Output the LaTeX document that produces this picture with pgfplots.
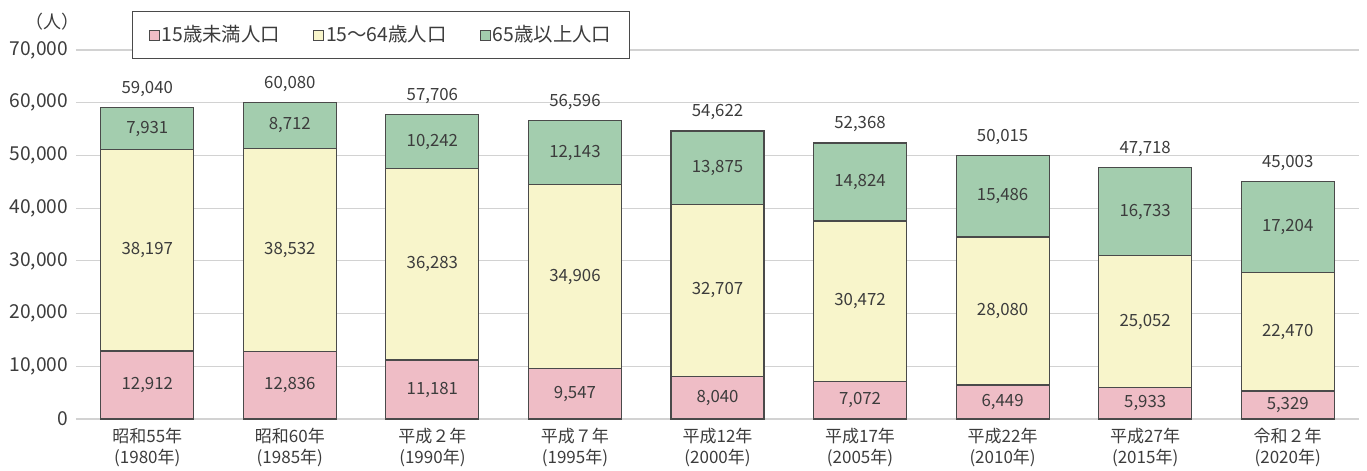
\documentclass[border=0pt]{standalone}
\usepackage{pgfplots}
\pgfplotsset{compat=1.18}
\usepackage{fontspec}
\setmainfont{Noto Sans CJK JP}
\definecolor{cpink}{HTML}{EFBDC6}
\definecolor{cyel}{HTML}{F8F5CB}
\definecolor{cgreen}{HTML}{A3CDAE}
\definecolor{cedge}{HTML}{4A4A4A}
\definecolor{ctext}{HTML}{3C3C3C}
\definecolor{cgrid}{HTML}{D2D2D2}
\pgfplotsset{
  /pgf/number format/assume math mode=true,
  base/.style={
    scale only axis, width=641.5pt, height=184.5pt,
    xmin=-0.5, xmax=8.5, ymin=0, ymax=70000,
  },
  lg/.style={legend image code/.code={\draw[##1, draw=cedge, line width=0.5pt] (0pt,-2.5pt) rectangle (5pt,2.5pt);}},
}
\begin{document}
\fontsize{8.4pt}{10pt}\selectfont
\color{ctext}
\begin{tikzpicture}
\begin{axis}[base, ybar stacked, bar width=46.5pt,
  axis line style={draw=none},
  major tick length=0pt,
  ymajorgrids, grid style={cgrid, line width=0.6pt},
  ytick={0,10000,...,70000},
  scaled y ticks=false,
  yticklabel style={text=ctext, xshift=-1pt, font=\fontsize{9.6pt}{11pt}\selectfont, /pgf/number format/1000 sep={,}, /pgf/number format/assume math mode=true},
  xtick={0,...,8},
  xticklabels={{昭和55年\\(1980年)},{昭和60年\\(1985年)},{平成２年\\(1990年)},{平成７年\\(1995年)},{平成12年\\(2000年)},{平成17年\\(2005年)},{平成22年\\(2010年)},{平成27年\\(2015年)},{令和２年\\(2020年)}},
  xticklabel style={align=center, text=ctext, font=\fontsize{8.5pt}{10.5pt}\selectfont, yshift=-1.5pt},
  legend style={at={(axis description cs:0.0436,1.1057)}, anchor=north west, draw=cedge, line width=0.6pt,
    legend columns=3, font=\fontsize{9.7pt}{11pt}\selectfont, text=ctext,
    inner xsep=8pt, inner ysep=5pt,
    nodes={inner xsep=1pt},
    /tikz/every even column/.append style={column sep=15.5pt}},
  clip=false,
  after end axis/.code={
    \coordinate (bl) at (rel axis cs:0,0);
    \coordinate (tr) at (rel axis cs:1,1);
  },
]
\addplot[fill=cpink, draw=cedge, line width=0.6pt, lg] coordinates {(0,12912) (1,12836) (2,11181) (3,9547) (4,8040) (5,7072) (6,6449) (7,5933) (8,5329)};
\addplot[fill=cyel, draw=cedge, line width=0.6pt, lg] coordinates {(0,38197) (1,38532) (2,36283) (3,34906) (4,32707) (5,30472) (6,28080) (7,25052) (8,22470)};
\addplot[fill=cgreen, draw=cedge, line width=0.6pt, lg] coordinates {(0,7931) (1,8712) (2,10242) (3,12143) (4,13875) (5,14824) (6,15486) (7,16733) (8,17204)};
\legend{15歳未満人口,15～64歳人口,65歳以上人口}
\end{axis}
\begin{axis}[base, hide axis, clip=false,
  nodes near coords={\pgfmathprintnumber[1000 sep={,}, assume math mode=true]{\pgfplotspointmeta}},
  point meta=explicit,
]
% segment labels: y = middle of segment, meta = value
\addplot[draw=none, mark=none, every node near coord/.append style={anchor=center, text=ctext}] table[meta=v] {
x y v
0 6456 12912
1 6418 12836
2 5590.5 11181
3 4773.5 9547
4 4020 8040
5 3536 7072
6 3224.5 6449
7 2966.5 5933
8 2664.5 5329
};
\addplot[draw=none, mark=none, every node near coord/.append style={anchor=center, text=ctext}] table[meta=v] {
x y v
0 32010.5 38197
1 32102 38532
2 29322.5 36283
3 27000 34906
4 24393.5 32707
5 22308 30472
6 20489 28080
7 18459 25052
8 16564 22470
};
\addplot[draw=none, mark=none, every node near coord/.append style={anchor=center, text=ctext}] table[meta=v] {
x y v
0 55074.5 7931
1 55724 8712
2 52585 10242
3 50524.5 12143
4 47684.5 13875
5 44956 14824
6 42272 15486
7 39351.5 16733
8 36401 17204
};
% totals
\addplot[draw=none, mark=none, every node near coord/.append style={anchor=south, text=ctext, yshift=2.5pt}] table[meta=v] {
x y v
0 59040 59040
1 60080 60080
2 57706 57706
3 56596 56596
4 54622 54622
5 52368 52368
6 50015 50015
7 47718 47718
8 45003 45003
};
\node[text=ctext, anchor=center, font=\fontsize{9pt}{10pt}\selectfont] at ([xshift=-11.5pt, yshift=14pt]rel axis cs:0,1) {（人）};
\end{axis}
\pgfresetboundingbox
\path[use as bounding box] ([shift={(-38pt,-25.5pt)}]bl) rectangle ([shift={(4pt,25pt)}]tr);
\end{tikzpicture}
\end{document}
